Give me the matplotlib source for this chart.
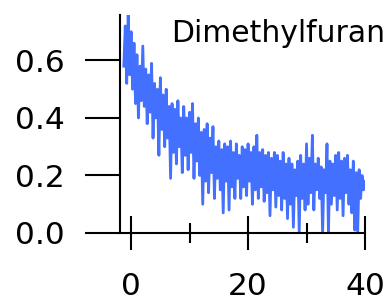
import numpy as np
import matplotlib
matplotlib.use("Agg")
import matplotlib.pyplot as plt

title = "Dimethylfuran"
t_start, t_end = -1.25, 40.0
values = [
    0.58, 0.72, 0.52, 0.76, 0.55, 0.70, 0.50, 0.66,
    0.45, 0.62, 0.40, 0.58, 0.46, 0.65, 0.44, 0.57,
    0.38, 0.55, 0.42, 0.59, 0.33, 0.52, 0.40, 0.50,
    0.27, 0.54, 0.36, 0.48, 0.30, 0.50, 0.33, 0.44,
    0.19, 0.45, 0.28, 0.43, 0.24, 0.46, 0.30, 0.40,
    0.21, 0.44, 0.27, 0.40, 0.22, 0.42, 0.28, 0.45,
    0.19, 0.38, 0.25, 0.40, 0.20, 0.35, 0.10, 0.36,
    0.18, 0.38, 0.14, 0.33, 0.21, 0.37, 0.12, 0.30,
    0.19, 0.32, 0.15, 0.29, 0.07, 0.31, 0.18, 0.30,
    0.08, 0.32, 0.16, 0.28, 0.12, 0.31, 0.19, 0.27,
    0.12, 0.30, 0.16, 0.29, 0.13, 0.31, 0.18, 0.28,
    0.10, 0.30, 0.15, 0.34, 0.12, 0.28, 0.16, 0.29,
    0.11, 0.27, 0.14, 0.28, 0.06, 0.26, 0.15, 0.28,
    0.09, 0.27, 0.13, 0.25, 0.08, 0.28, 0.12, 0.24,
    0.05, 0.26, 0.10, 0.24, 0.02, 0.22, 0.13, 0.25,
    0.00, 0.27, 0.12, 0.24, 0.08, 0.31, 0.10, 0.26,
    0.14, 0.34, 0.08, 0.24, 0.15, 0.26, 0.12, 0.23,
    0.00, 0.22, 0.14, 0.31, 0.00, 0.25, 0.10, 0.24,
    0.13, 0.27, 0.08, 0.28, 0.12, 0.25, 0.06, 0.26,
    0.14, 0.27, 0.10, 0.22, 0.07, 0.25, 0.01, 0.21,
    0.00, 0.22, 0.12, 0.20, 0.15, 0.18,
]
x_ticks = [0, 20, 40]
x_minor = [10, 30]
y_ticks = [0.0, 0.2, 0.4, 0.6]

times = np.linspace(t_start, t_end, len(values))

plt.rcParams['font.family'] = ['DejaVu Sans']
fig = plt.figure(figsize=(3.9, 3.08), dpi=100)
ax = fig.add_axes([120/390, 75/308, 245/390, 218/308])
ax.plot(times, values, color='#4470ff', lw=2.0)
ax.set_xlim(-1.9, 40)
ax.set_ylim(0, 0.758)
for s in ['top', 'right']:
    ax.spines[s].set_visible(False)
for s in ['left', 'bottom']:
    ax.spines[s].set_linewidth(1.5)
ax.set_xticks(x_ticks)
ax.set_xticks(x_minor, minor=True)
ax.set_yticks(y_ticks)
ax.set_yticklabels([f"{v:.1f}" for v in y_ticks])
ax.tick_params(axis='x', which='major', direction='inout', length=24, width=1.5,
               labelsize=22.5, pad=16)
ax.tick_params(axis='x', which='minor', direction='inout', length=14, width=1.5)
ax.tick_params(axis='y', which='major', direction='out', length=25, width=1.5,
               labelsize=22.5, pad=15)
fig.text(385/390, 1 - 42/308, title, ha='right', va='baseline', fontsize=21.5)
fig.savefig('out.png', dpi=100)
